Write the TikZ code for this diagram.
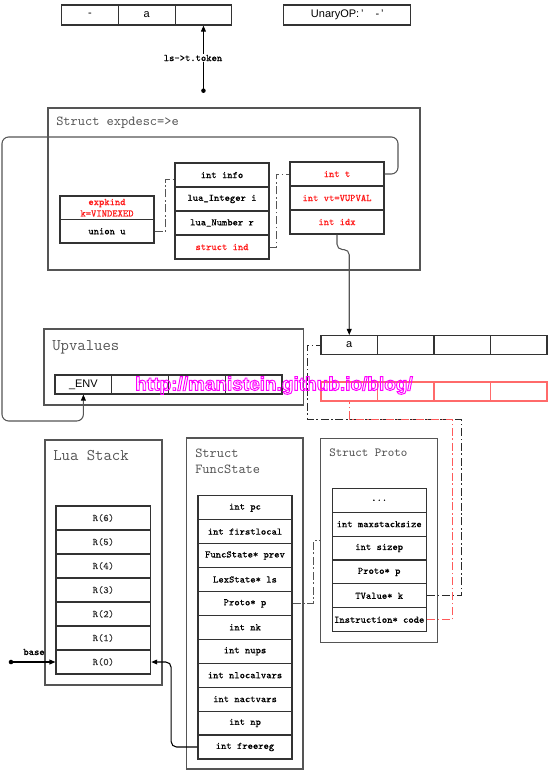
\documentclass[tikz,border=0pt]{standalone}
\usepackage{fontspec}
\usepackage{graphicx}
\newfontfamily\sansf{Liberation Sans}
\newfontface\cellfam{Latin Modern Mono}[FakeBold=0.35]
\usetikzlibrary{arrows.meta}
\definecolor{boxgray}{HTML}{555555}
\definecolor{cellline}{HTML}{333333}
\definecolor{txtred}{HTML}{FF1A1A}
\definecolor{lightred}{HTML}{FF6A6A}
\definecolor{dashred}{HTML}{FF5A5A}
\definecolor{dashdark}{HTML}{2A2A2A}
\definecolor{wmark}{HTML}{FF00FF}
\newcommand\cellf{\cellfam\fontsize{7.5}{8.6}\selectfont}
\newcommand\sanscell{\sansf\fontsize{8.25}{9.9}\selectfont}
\newcommand\ttitleA{\ttfamily\fontsize{10.3}{12}\selectfont}
\newcommand\ttitleB{\ttfamily\fontsize{12.2}{14}\selectfont}
\newcommand\ttitleC{\ttfamily\fontsize{9.3}{11}\selectfont}
\tikzset{
  cell/.style={draw=cellline, line width=0.8pt, inner sep=0pt, font=\cellf, text=black, align=center},
  wh/.style 2 args={minimum width=#1*0.75pt, minimum height=#2*0.75pt},
  redcell/.style={draw=lightred, line width=0.8pt, inner sep=0pt},
  outer/.style={draw=boxgray, line width=1.1pt, inner sep=0pt},
  boxtitle/.style={anchor=west, text=boxgray, inner sep=0pt},
  conn/.style={draw=boxgray, line width=0.8pt},
  arr/.style={-{Triangle[length=4.5pt,width=3.6pt,color=black,fill=black]}},
  ddash/.style={line width=0.75pt, dash pattern=on 6pt off 2pt on 1.2pt off 2pt},
}
\begin{document}
\begin{tikzpicture}[x=0.75pt,y=-0.75pt]
\useasboundingbox (0,0) rectangle (548,772);

% ---------- outer boxes ----------
\node[outer,wh={372}{162}] (expdesc) at (234,189) {};
\node[boxtitle,font=\ttitleA] (expdescT) at (56,123) {Struct expdesc=>e};
\node[outer,wh={259.5}{76}] (upv) at (173.75,367) {};
\node[boxtitle,font=\ttitleB] (upvT) at (52,347) {Upvalues};
\node[outer,wh={117}{245}] (lstack) at (103.5,562.5) {};
\node[boxtitle,font=\ttitleB] (lstackT) at (53,456) {Lua Stack};
\node[outer,wh={116.3}{331}] (fstate) at (244.85,603.5) {};
\node[boxtitle,anchor=north west,align=left,font=\ttitleA] (fstateT) at (195,448.5) {Struct\\FuncState};
\node[outer,wh={116.6}{204}] (sproto) at (379,540.7) {};
\node[boxtitle,font=\ttitleC] (sprotoT) at (329,452.7) {Struct Proto};

% ---------- token array ----------
\node[cell,wh={56.7}{20},font=\sanscell] (t1) at (90.05,15) {-};
\node[cell,wh={56.7}{20},font=\sanscell] (t2) at (146.75,15) {a};
\node[cell,wh={56.7}{20},font=\sanscell] (t3) at (203.45,15) {};
\node[cell,wh={126.7}{20},font=\sanscell] (unop) at (347.3,15) {UnaryOP:\,’\hspace{1.1em}-\,’};
\coordinate (tokdot) at (203.45,90.7);
\fill[black] (tokdot) circle[radius=1.7pt];
\draw[line width=0.8pt,arr] (tokdot) -- (t3.south);
\node[fill=white,inner sep=1pt,font=\cellf] (toklabel) at (193,58) {ls->t.token};

% ---------- expdesc contents ----------
\node[cell,wh={94}{23.5},text=txtred] (ek) at (107,207.75) {expkind\\k=VINDEXED};
\node[cell,wh={94}{23.5}] (ku) at (107,231.25) {union u};
\node[cell,wh={94}{24}] (info) at (222,175) {int info};
\node[cell,wh={94}{24}] (li) at (222,199) {lua\_Integer i};
\node[cell,wh={94}{24}] (ln) at (222,223) {lua\_Number r};
\node[cell,wh={94}{24},text=txtred] (ind) at (222,247) {struct ind};
\node[cell,wh={94}{24},text=txtred] (it) at (337,174) {int t};
\node[cell,wh={94}{24},text=txtred] (ivt) at (337,198) {int vt=VUPVAL};
\node[cell,wh={94}{24},text=txtred] (idx) at (337,222) {int idx};

% ---------- upvalue arrays ----------
\node[cell,wh={56.75}{19},font=\sanscell] (env) at (83.4,384.5) {\_ENV};
\node[cell,wh={56.75}{19}] (uv2) at (140.1,384.5) {};
\node[cell,wh={56.75}{19}] (uv3) at (196.9,384.5) {};
\node[cell,wh={56.75}{19}] (uv4) at (253.6,384.5) {};

\node[cell,wh={56.5}{19},font=\sanscell] (ua1) at (349.25,345) {a};
\node[cell,wh={56.5}{19}] (ua2) at (405.75,345) {};
\node[cell,wh={56.5}{19}] (ua3) at (462.25,345) {};
\node[cell,wh={56.5}{19}] (ua4) at (518.75,345) {};

\node[redcell,wh={56.5}{19}] (ur1) at (349.25,391.5) {};
\node[redcell,wh={56.5}{19}] (ur2) at (405.75,391.5) {};
\node[redcell,wh={56.5}{19}] (ur3) at (462.25,391.5) {};
\node[redcell,wh={56.5}{19}] (ur4) at (518.75,391.5) {};

% ---------- Lua stack ----------
\foreach \i/\yy in {6/518,5/542,4/566,3/590,2/614,1/638,0/662}{
  \node[cell,wh={94.7}{24},text=cellline] (r\i) at (103.35,\yy) {R(\i)};
}
\coordinate (basedot) at (11,662);
\fill[black] (basedot) circle[radius=1.7pt];
\draw[line width=0.8pt,arr] (basedot) -- (r0.west);
\node[font=\cellf,inner sep=0pt] (baselabel) at (34,652) {base};

% ---------- FuncState ----------
\foreach \nm/\yy/\tx in {fpc/507.7/int pc, ffl/531.6/int firstlocal, fprev/555.5/FuncState* prev,
  fls/579.5/LexState* ls, fp/603.4/Proto* p, fnk/627.3/int nk, fnups/651.3/int nups,
  fnlv/675.2/int nlocalvars, fnav/699.1/int nactvars, fnp/723.0/int np, ffr/747.0/int freereg}{
  \node[cell,wh={94}{23.93}] (\nm) at (245,\yy) {\tx};
}

% ---------- Proto ----------
\node[cell,wh={94.3}{23.9}] (pdots) at (379.2,500.25) {.\kern0pt.\kern0pt.};
\foreach \nm/\yy/\tx in {pmax/524.15/int maxstacksize, psz/548.05/int sizep,
  ppp/571.95/Proto* p, pk/595.85/TValue* k, pcode/619.75/Instruction* code}{
  \node[cell,wh={94.3}{23.9}] (\nm) at (379.2,\yy) {\tx};
}

% ---------- connectors ----------
\draw[ddash,draw=boxgray] (ku.east) -- ++(11,0) |- ([yshift=-3pt]info.west);
\draw[ddash,draw=boxgray] (ind.east) -- ++(7,0) |- (it.west);

\coordinate (lpA) at (398,137);
\coordinate (lpB) at (2,137);
\coordinate (lpC) at (2,421);
\draw[conn,rounded corners=5pt,arr] (it.east) -| (lpA) -- (lpB) -- (lpC) -| (env.south);

\draw[conn,rounded corners=4pt,arr] (idx.south) -- ++(0,15) -| (ua1.north);

\coordinate (bkA) at (461,419);
\coordinate (bkB) at (307,419);
\draw[ddash,draw=dashdark] (pk.east) -| (bkA) -- (bkB) |- (ua1.west);

\coordinate (rdA) at (452,419);
\draw[ddash,draw=dashred] (pcode.east) -| (rdA) -| (ur1.south);

\draw[ddash,draw=boxgray] (fp.east) -- ++(21,0) |- (sproto.west);

\draw[line width=0.8pt,draw=black,rounded corners=4pt,arr] (ffr.west) -- ++(-26.3,0) |- (r0.east);

% ---------- watermark ----------
\node[inner sep=0pt,text=wmark] (wm) at (274,385.5)
  {\resizebox{208pt}{!}{\special{pdf:literal direct 1 Tr 0.5 w}\sansf\bfseries http://manistein.github.io/blog/\special{pdf:literal direct 0 Tr}}};
\end{tikzpicture}
\end{document}
